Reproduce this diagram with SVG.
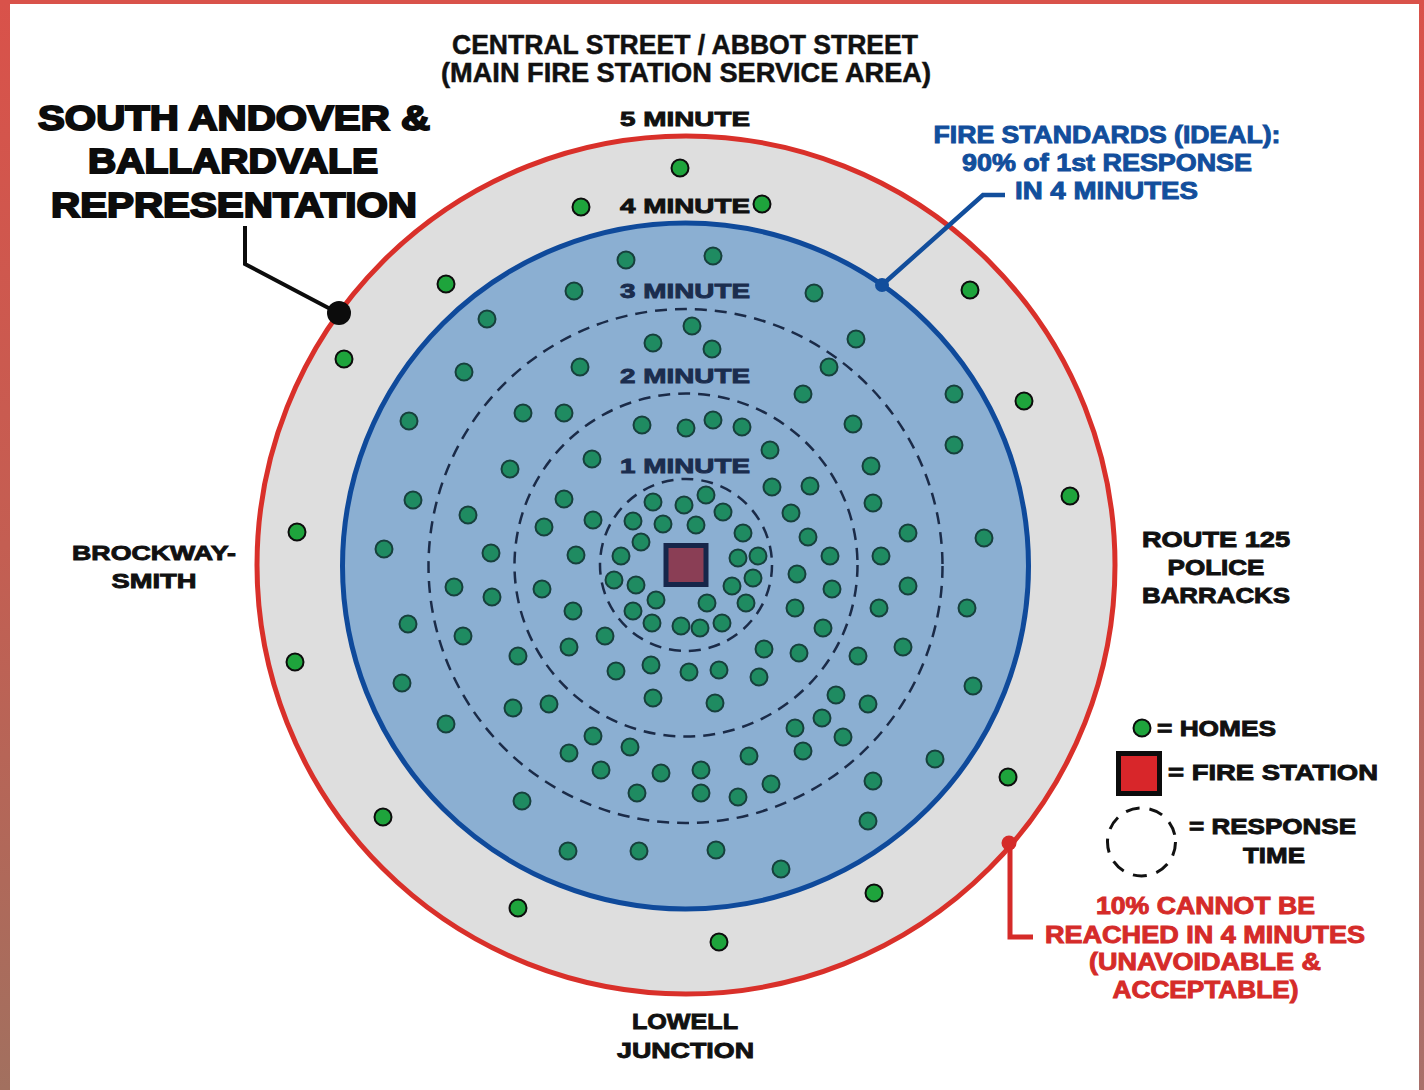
<svg xmlns="http://www.w3.org/2000/svg" xmlns:xlink="http://www.w3.org/1999/xlink" width="1424" height="1090" viewBox="0 0 1424 1090">
  <defs>
    <linearGradient id="edgeL" x1="0" y1="0" x2="0" y2="1">
      <stop offset="0" stop-color="#d9524a"/>
      <stop offset="0.5" stop-color="#c45e52"/>
      <stop offset="1" stop-color="#a2705f"/>
    </linearGradient>
    <linearGradient id="edgeR" x1="0" y1="0" x2="0" y2="1">
      <stop offset="0" stop-color="#d9524a"/>
      <stop offset="1" stop-color="#a8706a"/>
    </linearGradient>
    <style>
      .t { font-family: "Liberation Sans", Arial, sans-serif; font-weight: bold; text-anchor: middle; }
      .blk { fill: #111; stroke: #111; stroke-width: 0.9; }
      .cond { fill: #111; stroke: #111; stroke-width: 0.5; font-size: 27px; }
      .heavy { fill: #0c0c0c; stroke: #0c0c0c; stroke-width: 2; font-size: 35px; }
      .navy { fill: #1b2d4e; stroke: #1b2d4e; stroke-width: 0.9; }
      .blu { fill: #124e9c; stroke: #124e9c; stroke-width: 0.9; font-size: 23px; }
      .red { fill: #d52b29; stroke: #d52b29; stroke-width: 0.9; font-size: 23px; }
      .min { font-size: 21px; }
      .h { fill: #1f8b61; stroke: #17403d; stroke-width: 2; }
      .ho { fill: #1ea43c; stroke: #0d0d0d; stroke-width: 2; }
      .ring { fill: none; stroke: #1b2b48; stroke-width: 2.5; stroke-dasharray: 12 8; }
    </style>
  </defs>

  <!-- page background and coloured edge -->
  <rect x="0" y="0" width="1424" height="1090" fill="#ffffff"/>
  <rect x="0" y="0" width="10" height="1090" fill="url(#edgeL)"/>
  <rect x="1419" y="0" width="5" height="1090" fill="url(#edgeR)"/>
  <rect x="0" y="0" width="1424" height="4" fill="#d9524a"/>

  <!-- service zones -->
  <g id="zones">
    <circle id="zone-5min" cx="686" cy="565" r="429" fill="#dedede" stroke="#d9302a" stroke-width="5"/>
    <circle id="zone-4min" cx="685.5" cy="566" r="343" fill="#8bafd2" stroke="#0f4a9b" stroke-width="5"/>
    <circle id="ring-3min" class="ring" cx="685.5" cy="566" r="257"/>
    <circle id="ring-2min" class="ring" cx="686" cy="565" r="171.5"/>
    <circle id="ring-1min" class="ring" cx="686" cy="565" r="86"/>
  </g>

  <!-- homes beyond the 4 minute line -->
  <g id="homes-outer">
    <circle class="ho" cx="680" cy="168" r="8.5"/>
    <circle class="ho" cx="581" cy="207" r="8.5"/>
    <circle class="ho" cx="446" cy="284" r="8.5"/>
    <circle class="ho" cx="970" cy="290" r="8.5"/>
    <circle class="ho" cx="344" cy="359" r="8.5"/>
    <circle class="ho" cx="1024" cy="401" r="8.5"/>
    <circle class="ho" cx="1070" cy="496" r="8.5"/>
    <circle class="ho" cx="297" cy="532" r="8.5"/>
    <circle class="ho" cx="295" cy="662" r="8.5"/>
    <circle class="ho" cx="1008" cy="777" r="8.5"/>
    <circle class="ho" cx="383" cy="817" r="8.5"/>
    <circle class="ho" cx="874" cy="893" r="8.5"/>
    <circle class="ho" cx="518" cy="908" r="8.5"/>
    <circle class="ho" cx="719" cy="942" r="8.5"/>
  </g>

  <!-- homes within the 4 minute line -->
  <g id="homes-inner">
    <circle class="h" cx="626" cy="260" r="8.5"/>
    <circle class="h" cx="713" cy="256" r="8.5"/>
    <circle class="h" cx="574" cy="291" r="8.5"/>
    <circle class="h" cx="814" cy="293" r="8.5"/>
    <circle class="h" cx="487" cy="319" r="8.5"/>
    <circle class="h" cx="692" cy="326" r="8.5"/>
    <circle class="h" cx="856" cy="339" r="8.5"/>
    <circle class="h" cx="653" cy="343" r="8.5"/>
    <circle class="h" cx="712" cy="349" r="8.5"/>
    <circle class="h" cx="580" cy="367" r="8.5"/>
    <circle class="h" cx="829" cy="367" r="8.5"/>
    <circle class="h" cx="464" cy="372" r="8.5"/>
    <circle class="h" cx="803" cy="394" r="8.5"/>
    <circle class="h" cx="954" cy="394" r="8.5"/>
    <circle class="h" cx="523" cy="413" r="8.5"/>
    <circle class="h" cx="564" cy="413" r="8.5"/>
    <circle class="h" cx="409" cy="421" r="8.5"/>
    <circle class="h" cx="713" cy="420" r="8.5"/>
    <circle class="h" cx="642" cy="425" r="8.5"/>
    <circle class="h" cx="686" cy="428" r="8.5"/>
    <circle class="h" cx="742" cy="427" r="8.5"/>
    <circle class="h" cx="853" cy="424" r="8.5"/>
    <circle class="h" cx="954" cy="445" r="8.5"/>
    <circle class="h" cx="770" cy="450" r="8.5"/>
    <circle class="h" cx="592" cy="459" r="8.5"/>
    <circle class="h" cx="510" cy="469" r="8.5"/>
    <circle class="h" cx="871" cy="466" r="8.5"/>
    <circle class="h" cx="772" cy="487" r="8.5"/>
    <circle class="h" cx="810" cy="486" r="8.5"/>
    <circle class="h" cx="706" cy="495" r="8.5"/>
    <circle class="h" cx="413" cy="500" r="8.5"/>
    <circle class="h" cx="564" cy="499" r="8.5"/>
    <circle class="h" cx="653" cy="502" r="8.5"/>
    <circle class="h" cx="684" cy="505" r="8.5"/>
    <circle class="h" cx="873" cy="503" r="8.5"/>
    <circle class="h" cx="468" cy="515" r="8.5"/>
    <circle class="h" cx="723" cy="512" r="8.5"/>
    <circle class="h" cx="791" cy="513" r="8.5"/>
    <circle class="h" cx="593" cy="520" r="8.5"/>
    <circle class="h" cx="633" cy="521" r="8.5"/>
    <circle class="h" cx="663" cy="524" r="8.5"/>
    <circle class="h" cx="696" cy="525" r="8.5"/>
    <circle class="h" cx="544" cy="527" r="8.5"/>
    <circle class="h" cx="743" cy="533" r="8.5"/>
    <circle class="h" cx="808" cy="537" r="8.5"/>
    <circle class="h" cx="908" cy="533" r="8.5"/>
    <circle class="h" cx="984" cy="538" r="8.5"/>
    <circle class="h" cx="641" cy="542" r="8.5"/>
    <circle class="h" cx="384" cy="549" r="8.5"/>
    <circle class="h" cx="491" cy="553" r="8.5"/>
    <circle class="h" cx="576" cy="555" r="8.5"/>
    <circle class="h" cx="621" cy="556" r="8.5"/>
    <circle class="h" cx="738" cy="558" r="8.5"/>
    <circle class="h" cx="758" cy="556" r="8.5"/>
    <circle class="h" cx="830" cy="556" r="8.5"/>
    <circle class="h" cx="881" cy="556" r="8.5"/>
    <circle class="h" cx="797" cy="574" r="8.5"/>
    <circle class="h" cx="753" cy="578" r="8.5"/>
    <circle class="h" cx="614" cy="580" r="8.5"/>
    <circle class="h" cx="636" cy="585" r="8.5"/>
    <circle class="h" cx="732" cy="586" r="8.5"/>
    <circle class="h" cx="454" cy="587" r="8.5"/>
    <circle class="h" cx="542" cy="589" r="8.5"/>
    <circle class="h" cx="832" cy="589" r="8.5"/>
    <circle class="h" cx="908" cy="586" r="8.5"/>
    <circle class="h" cx="492" cy="597" r="8.5"/>
    <circle class="h" cx="656" cy="600" r="8.5"/>
    <circle class="h" cx="707" cy="603" r="8.5"/>
    <circle class="h" cx="746" cy="603" r="8.5"/>
    <circle class="h" cx="795" cy="608" r="8.5"/>
    <circle class="h" cx="879" cy="608" r="8.5"/>
    <circle class="h" cx="967" cy="608" r="8.5"/>
    <circle class="h" cx="573" cy="611" r="8.5"/>
    <circle class="h" cx="633" cy="611" r="8.5"/>
    <circle class="h" cx="408" cy="624" r="8.5"/>
    <circle class="h" cx="652" cy="623" r="8.5"/>
    <circle class="h" cx="681" cy="626" r="8.5"/>
    <circle class="h" cx="700" cy="628" r="8.5"/>
    <circle class="h" cx="722" cy="623" r="8.5"/>
    <circle class="h" cx="823" cy="628" r="8.5"/>
    <circle class="h" cx="463" cy="636" r="8.5"/>
    <circle class="h" cx="605" cy="636" r="8.5"/>
    <circle class="h" cx="569" cy="647" r="8.5"/>
    <circle class="h" cx="764" cy="649" r="8.5"/>
    <circle class="h" cx="903" cy="647" r="8.5"/>
    <circle class="h" cx="518" cy="656" r="8.5"/>
    <circle class="h" cx="799" cy="653" r="8.5"/>
    <circle class="h" cx="858" cy="656" r="8.5"/>
    <circle class="h" cx="616" cy="671" r="8.5"/>
    <circle class="h" cx="651" cy="665" r="8.5"/>
    <circle class="h" cx="689" cy="672" r="8.5"/>
    <circle class="h" cx="719" cy="670" r="8.5"/>
    <circle class="h" cx="759" cy="677" r="8.5"/>
    <circle class="h" cx="402" cy="683" r="8.5"/>
    <circle class="h" cx="973" cy="686" r="8.5"/>
    <circle class="h" cx="653" cy="698" r="8.5"/>
    <circle class="h" cx="549" cy="704" r="8.5"/>
    <circle class="h" cx="715" cy="703" r="8.5"/>
    <circle class="h" cx="513" cy="708" r="8.5"/>
    <circle class="h" cx="836" cy="695" r="8.5"/>
    <circle class="h" cx="868" cy="704" r="8.5"/>
    <circle class="h" cx="822" cy="718" r="8.5"/>
    <circle class="h" cx="446" cy="724" r="8.5"/>
    <circle class="h" cx="795" cy="728" r="8.5"/>
    <circle class="h" cx="593" cy="736" r="8.5"/>
    <circle class="h" cx="843" cy="737" r="8.5"/>
    <circle class="h" cx="630" cy="747" r="8.5"/>
    <circle class="h" cx="569" cy="753" r="8.5"/>
    <circle class="h" cx="803" cy="751" r="8.5"/>
    <circle class="h" cx="749" cy="756" r="8.5"/>
    <circle class="h" cx="935" cy="759" r="8.5"/>
    <circle class="h" cx="601" cy="770" r="8.5"/>
    <circle class="h" cx="661" cy="773" r="8.5"/>
    <circle class="h" cx="701" cy="770" r="8.5"/>
    <circle class="h" cx="771" cy="784" r="8.5"/>
    <circle class="h" cx="873" cy="781" r="8.5"/>
    <circle class="h" cx="637" cy="793" r="8.5"/>
    <circle class="h" cx="701" cy="793" r="8.5"/>
    <circle class="h" cx="738" cy="797" r="8.5"/>
    <circle class="h" cx="522" cy="801" r="8.5"/>
    <circle class="h" cx="868" cy="821" r="8.5"/>
    <circle class="h" cx="568" cy="851" r="8.5"/>
    <circle class="h" cx="639" cy="851" r="8.5"/>
    <circle class="h" cx="716" cy="850" r="8.5"/>
    <circle class="h" cx="781" cy="869" r="8.5"/>
  </g>

  <!-- fire station at the centre -->
  <g id="station">
    <rect x="666" y="545.5" width="40" height="39" fill="#8a3e55" stroke="#16264a" stroke-width="5"/>
  </g>

  <!-- response time ring labels -->
  <g id="ring-labels" class="t">
    <text class="blk min" x="685" y="126" textLength="130" lengthAdjust="spacingAndGlyphs">5 MINUTE</text>
    <text class="blk min" x="685" y="213" textLength="130" lengthAdjust="spacingAndGlyphs">4 MINUTE</text>
    <text class="navy min" x="685" y="298" textLength="130" lengthAdjust="spacingAndGlyphs">3 MINUTE</text>
    <text class="navy min" x="685" y="383" textLength="130" lengthAdjust="spacingAndGlyphs">2 MINUTE</text>
    <text class="navy min" x="685" y="473" textLength="130" lengthAdjust="spacingAndGlyphs">1 MINUTE</text>
  </g>
  <!-- the 4 minute home sits on top of its label -->
  <circle class="ho" cx="762" cy="204" r="8.5"/>

  <!-- callout leaders -->
  <g id="connectors" fill="none" stroke-linejoin="miter">
    <path d="M245 226 V264 L338 313" stroke="#0c0c0c" stroke-width="4"/>
    <circle cx="339" cy="313" r="12" fill="#0c0c0c"/>
    <path d="M882 285 L983 195 H1005" stroke="#124e9c" stroke-width="4.5"/>
    <circle cx="882" cy="285" r="7" fill="#124e9c"/>
    <path d="M1010 843 V937 H1033" stroke="#d52b29" stroke-width="5"/>
    <circle cx="1009" cy="843" r="7.5" fill="#d52b29"/>
  </g>

  <!-- area names -->
  <g id="title-top" class="t cond">
    <text x="685" y="54" textLength="466" lengthAdjust="spacingAndGlyphs">CENTRAL STREET / ABBOT STREET</text>
    <text x="686" y="82" textLength="490" lengthAdjust="spacingAndGlyphs">(MAIN FIRE STATION SERVICE AREA)</text>
  </g>
  <g id="title-south" class="t heavy">
    <text x="234" y="130" textLength="392" lengthAdjust="spacingAndGlyphs">SOUTH ANDOVER &amp;</text>
    <text x="233" y="173" textLength="290" lengthAdjust="spacingAndGlyphs">BALLARDVALE</text>
    <text x="234" y="217" textLength="366" lengthAdjust="spacingAndGlyphs">REPRESENTATION</text>
  </g>
  <g id="label-brockway" class="t blk" font-size="21">
    <text x="154" y="560" textLength="164" lengthAdjust="spacingAndGlyphs">BROCKWAY-</text>
    <text x="154" y="588" textLength="85" lengthAdjust="spacingAndGlyphs">SMITH</text>
  </g>
  <g id="label-route125" class="t blk" font-size="22">
    <text x="1216" y="547" textLength="148" lengthAdjust="spacingAndGlyphs">ROUTE 125</text>
    <text x="1216" y="575" textLength="97" lengthAdjust="spacingAndGlyphs">POLICE</text>
    <text x="1216" y="603" textLength="148" lengthAdjust="spacingAndGlyphs">BARRACKS</text>
  </g>
  <g id="label-lowell" class="t blk" font-size="22">
    <text x="685" y="1029" textLength="106" lengthAdjust="spacingAndGlyphs">LOWELL</text>
    <text x="685.5" y="1058" textLength="137" lengthAdjust="spacingAndGlyphs">JUNCTION</text>
  </g>

  <!-- standards notes -->
  <g id="note-standard" class="t blu">
    <text x="1107" y="143" textLength="347" lengthAdjust="spacingAndGlyphs">FIRE STANDARDS (IDEAL):</text>
    <text x="1107" y="171" textLength="290" lengthAdjust="spacingAndGlyphs">90% of 1st RESPONSE</text>
    <text x="1106.5" y="199" textLength="183" lengthAdjust="spacingAndGlyphs">IN 4 MINUTES</text>
  </g>
  <g id="note-unreached" class="t red">
    <text x="1205.5" y="914" textLength="219" lengthAdjust="spacingAndGlyphs">10% CANNOT BE</text>
    <text x="1205" y="943" textLength="320" lengthAdjust="spacingAndGlyphs">REACHED IN 4 MINUTES</text>
    <text x="1205" y="970" textLength="232" lengthAdjust="spacingAndGlyphs">(UNAVOIDABLE &amp;</text>
    <text x="1205.5" y="998" textLength="186" lengthAdjust="spacingAndGlyphs">ACCEPTABLE)</text>
  </g>

  <!-- key -->
  <g id="legend">
    <circle class="ho" cx="1142" cy="728" r="8.5"/>
    <rect x="1118.5" y="753.5" width="41" height="40" fill="#d8262a" stroke="#0c0c0c" stroke-width="5"/>
    <circle cx="1141.5" cy="842" r="34" fill="none" stroke="#111" stroke-width="3" stroke-dasharray="14 10"/>
    <g class="t blk" font-size="22" style="text-anchor:start">
      <text x="1157" y="736" textLength="119" lengthAdjust="spacingAndGlyphs">= HOMES</text>
      <text x="1168" y="780" textLength="210" lengthAdjust="spacingAndGlyphs">= FIRE STATION</text>
      <text x="1189" y="834" textLength="167" lengthAdjust="spacingAndGlyphs">= RESPONSE</text>
      <text x="1243" y="863" textLength="62" lengthAdjust="spacingAndGlyphs">TIME</text>
    </g>
  </g>
</svg>
